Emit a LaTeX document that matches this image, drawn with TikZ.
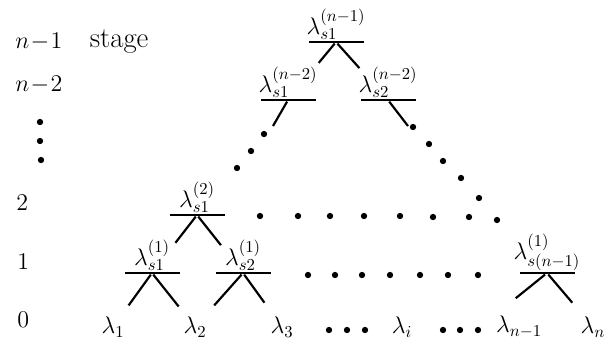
\documentclass[tikz,border=0pt]{standalone}
\usepackage{fontspec}
\usetikzlibrary{positioning,calc}

\begin{document}
\begin{tikzpicture}[x=0.6pt, y=-0.6pt,
    mergebar/.style={rectangle, fill=black, minimum width=33pt,
                     minimum height=1.5pt, inner sep=0pt},
    lam/.style={inner sep=0.5pt, font=\Large},
    stagelbl/.style={anchor=west, inner sep=0pt, font=\Large},
    leg/.style={line width=1.3pt}
]
\useasboundingbox (0,0) rectangle (610,341);

\node[stagelbl] (stgtop) at (15,42) {$n\!-\!1$};
\node[stagelbl, right=16pt of stgtop, font=\LARGE\addfontfeature{LetterSpace=12}] (stgword) {stage};
\node[stagelbl] (stgnext) at (15,85) {$n\!-\!2$};
\node[stagelbl] (stgtwo) at (16,203) {2};
\node[stagelbl] (stgone) at (17,262) {1};
\node[stagelbl] (stgzero) at (17,320) {0};
\fill (40,122) circle (1.9pt) (40,141) circle (1.9pt) (41,160) circle (1.9pt);

\node[mergebar] (bt) at (336,42) {};
\node[lam, above=0pt of bt] (st) {$\lambda_{s1}^{(n-1)}$};

\node[mergebar] (b21) at (288,100) {};
\node[lam, above=0pt of b21] (s21) {$\lambda_{s1}^{(n-2)}$};
\node[mergebar] (b22) at (388,100) {};
\node[lam, above=0pt of b22] (s22) {$\lambda_{s2}^{(n-2)}$};

\node[mergebar] (bs2) at (197,215) {};
\node[lam, above=0pt of bs2] (ss2) {$\lambda_{s1}^{(2)}$};

\node[mergebar] (b11) at (152,273) {};
\node[lam, above=0pt of b11] (s11) {$\lambda_{s1}^{(1)}$};
\node[mergebar] (b12) at (243,273) {};
\node[lam, above=0pt of b12] (s12) {$\lambda_{s2}^{(1)}$};
\node[mergebar] (b1n) at (547,273) {};
\node[lam, above=0pt of b1n] (s1n) {$\lambda_{s(n-1)}^{(1)}$};

\node[lam] (l1) at (113,327) {$\lambda_1$};
\node[lam] (l2) at (195,327) {$\lambda_2$};
\node[lam] (l3) at (282,327) {$\lambda_3$};
\node[lam] (li) at (402,327) {$\lambda_i$};
\node[lam] (ln1) at (519,327) {$\lambda_{n-1}$};
\node[lam] (ln) at (593,327) {$\lambda_n$};

\coordinate (gl) at (273,126);
\coordinate (gr) at (408,126);

\draw[leg] (bt) -- ($(bt)!0.36!(b21)$);
\draw[leg] (bt) -- ($(bt)!0.45!(b22)$);
\draw[leg] (b21) -- (gl);
\draw[leg] (b22) -- (gr);
\draw[leg] (bs2) -- ($(bs2)!0.48!(b11)$);
\draw[leg] (bs2) -- ($(bs2)!0.52!(b12)$);
\draw[leg] (b11) -- ($(b11)!0.6!(l1)$);
\draw[leg] (b11) -- ($(b11)!0.62!(l2)$);
\draw[leg] (b12) -- ($(b12)!0.6!(l2)$);
\draw[leg] (b12) -- ($(b12)!0.55!(l3)$);
\draw[leg] (b1n) -- ($(b1n)!0.6!(ln1.north west)$);
\draw[leg] (b1n) -- ($(b1n)!0.55!(ln)$);

\fill (264,134) circle (1.9pt) (251,151) circle (1.9pt) (237,168) circle (1.9pt);
\fill (413,127) circle (1.9pt) (429,144) circle (1.9pt) (443,161) circle (1.9pt)
      (461,178) circle (1.9pt) (479,198) circle (1.9pt) (497,220) circle (1.9pt);
\fill (260,216) circle (1.9pt) (298,216) circle (1.9pt) (330,216) circle (1.9pt)
      (364,216) circle (1.9pt) (400,216) circle (1.9pt) (433,217) circle (1.9pt)
      (469,217) circle (1.9pt);
\fill (308,275) circle (1.9pt) (335,275) circle (1.9pt) (362,275) circle (1.9pt)
      (390,275) circle (1.9pt) (420,275) circle (1.9pt) (448,275) circle (1.9pt)
      (478,275) circle (1.9pt);
\fill (329,330) circle (1.9pt) (347,330) circle (1.9pt) (365,330) circle (1.9pt)
      (443,330) circle (1.9pt) (460,330) circle (1.9pt) (478,330) circle (1.9pt);

\end{tikzpicture}
\end{document}
